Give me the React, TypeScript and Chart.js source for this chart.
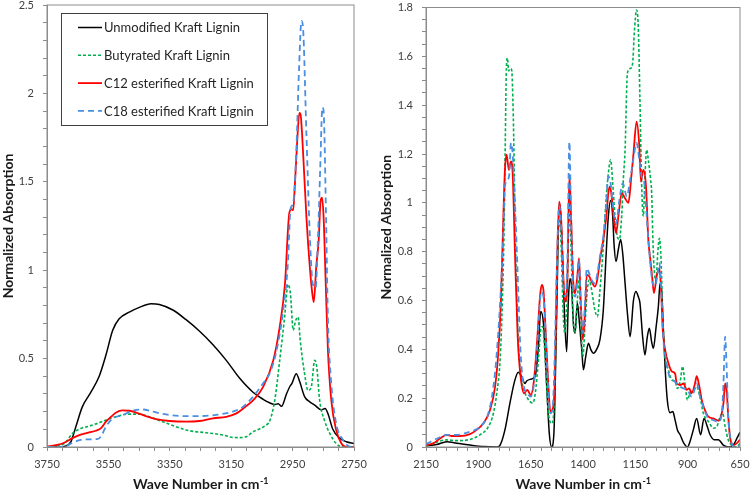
import React, { useEffect, useRef } from "react";
import { Chart, registerables } from "chart.js";

Chart.register(...registerables);

// ---------- DATA ----------
const seriesNames = [
  "Unmodified Kraft Lignin",
  "Butyrated Kraft Lignin",
  "C12 esterified Kraft Lignin",
  "C18 esterified Kraft Lignin",
];

// Left panel: [wave number cm-1, normalized absorption]
const leftUnmodified: [number, number][] = [
  [3750, 0], [3720, 0], [3690, 0.005], [3672, 0.03], [3656, 0.115], [3635, 0.227], [3607, 0.31],
  [3580, 0.4], [3558, 0.52], [3536, 0.66], [3515, 0.725], [3482, 0.763], [3449, 0.79], [3411, 0.81],
  [3384, 0.806], [3340, 0.775], [3297, 0.72], [3253, 0.655], [3210, 0.58], [3166, 0.49], [3123, 0.39],
  [3079, 0.31], [3046, 0.27], [3025, 0.25], [3008, 0.24], [2997, 0.245], [2986, 0.23], [2970, 0.3],
  [2958, 0.345], [2952, 0.36], [2938, 0.415], [2927, 0.37], [2911, 0.285], [2894, 0.255], [2878, 0.237],
  [2856, 0.21], [2844, 0.218], [2835, 0.19], [2819, 0.1], [2797, 0.05], [2775, 0.03], [2750, 0.02],
];
const leftButyrated: [number, number][] = [
  [3750, 0], [3694, 0.02], [3667, 0.077], [3640, 0.105], [3613, 0.118], [3580, 0.137], [3547, 0.16],
  [3515, 0.177], [3482, 0.186], [3449, 0.186], [3417, 0.171], [3373, 0.143], [3330, 0.115], [3286, 0.092],
  [3232, 0.081], [3177, 0.068], [3145, 0.054], [3123, 0.053], [3101, 0.058], [3079, 0.086], [3060, 0.1],
  [3040, 0.12], [3024, 0.15], [3008, 0.265], [2992, 0.49], [2976, 0.735], [2965, 0.92], [2957, 0.866],
  [2948, 0.66], [2940, 0.716], [2932, 0.735], [2925, 0.6], [2911, 0.415], [2900, 0.32], [2889, 0.34],
  [2878, 0.49], [2871, 0.45], [2862, 0.265], [2846, 0.15], [2829, 0.077], [2808, 0.02], [2786, 0.0], [2750, 0.0],
];
const leftC12: [number, number][] = [
  [3750, 0.002], [3722, 0.01], [3694, 0.024], [3667, 0.05], [3640, 0.07], [3613, 0.083], [3591, 0.092],
  [3575, 0.105], [3558, 0.143], [3542, 0.17], [3526, 0.194], [3504, 0.207], [3482, 0.205], [3460, 0.195],
  [3428, 0.175], [3395, 0.158], [3351, 0.147], [3297, 0.143], [3253, 0.147], [3210, 0.162], [3166, 0.171],
  [3133, 0.19], [3106, 0.225], [3078, 0.265], [3046, 0.34], [3013, 0.49], [2992, 0.68], [2975, 0.92],
  [2961, 1.32], [2954, 1.345], [2948, 1.34], [2943, 1.47], [2935, 1.73], [2928, 1.89], [2924, 1.88],
  [2916, 1.67], [2905, 1.3], [2894, 1.02], [2886, 0.87], [2881, 0.82], [2873, 1.02], [2865, 1.17],
  [2859, 1.39], [2854, 1.41], [2849, 1.3], [2842, 0.92], [2835, 0.55], [2824, 0.265], [2808, 0.096],
  [2791, 0.02], [2775, 0], [2750, 0],
];
const leftC18: [number, number][] = [
  [3750, 0], [3694, 0.002], [3667, 0.024], [3640, 0.04], [3613, 0.043], [3586, 0.045], [3575, 0.058],
  [3558, 0.115], [3537, 0.16], [3504, 0.18], [3471, 0.205], [3438, 0.212], [3406, 0.2], [3362, 0.184],
  [3308, 0.175], [3253, 0.175], [3199, 0.182], [3145, 0.2], [3112, 0.227], [3079, 0.284], [3046, 0.36],
  [3025, 0.415], [3003, 0.54], [2981, 0.77], [2965, 1.05], [2957, 1.345], [2948, 1.38], [2938, 1.67],
  [2929, 2.14], [2921, 2.41], [2916, 2.37], [2905, 1.77], [2894, 1.2], [2884, 0.92], [2875, 0.9],
  [2867, 1.2], [2860, 1.58], [2853, 1.92], [2849, 1.9], [2842, 1.39], [2835, 0.73], [2824, 0.36],
  [2808, 0.133], [2786, 0.04], [2759, 0], [2750, 0],
];

// Right panel: [wave number cm-1, normalized absorption]
const rightUnmodified: [number, number][] = [
  [2150, 0.004], [2099, 0.01], [2051, 0.022], [2003, 0.015], [1940, 0.008], [1876, 0.002], [1812, 0],
  [1796, 0.008], [1773, 0.07], [1749, 0.18], [1725, 0.275], [1709, 0.306], [1693, 0.288], [1677, 0.26],
  [1669, 0.27], [1653, 0.277], [1629, 0.288], [1613, 0.41], [1602, 0.555], [1589, 0.507], [1574, 0.26],
  [1561, 0.056], [1550, 0], [1539, 0.056], [1526, 0.534], [1513, 1.0], [1502, 0.876], [1491, 0.6],
  [1478, 0.39], [1470, 0.6], [1462, 0.69], [1454, 0.65], [1446, 0.507], [1438, 0.466], [1427, 0.59],
  [1417, 0.507], [1406, 0.4], [1398, 0.316], [1387, 0.37], [1374, 0.425], [1363, 0.4], [1350, 0.384],
  [1335, 0.4], [1319, 0.44], [1303, 0.56], [1290, 0.78], [1279, 0.944], [1268, 1.01], [1258, 0.944],
  [1252, 0.835], [1242, 0.76], [1231, 0.81], [1220, 0.85], [1210, 0.79], [1199, 0.67], [1188, 0.55],
  [1175, 0.452], [1159, 0.6], [1147, 0.637], [1136, 0.616], [1128, 0.59], [1115, 0.45], [1104, 0.377],
  [1093, 0.45], [1083, 0.486], [1072, 0.43], [1064, 0.404], [1051, 0.49], [1040, 0.575], [1032, 0.67],
  [1024, 0.64], [1016, 0.48], [1008, 0.33], [997, 0.19], [984, 0.14], [971, 0.145], [960, 0.11],
  [949, 0.07], [936, 0.05], [920, 0.018], [901, 0], [889, 0.022], [873, 0.07], [857, 0.117], [838, 0.05],
  [822, 0.117], [806, 0.083], [793, 0.05], [773, 0.03], [753, 0.03], [730, 0.008], [705, 0], [682, 0.008],
  [665, 0.035], [650, 0.06],
];
const rightButyrated: [number, number][] = [
  [2150, 0.004], [2099, 0.02], [2051, 0.029], [2003, 0.026], [1940, 0.031], [1892, 0.05], [1852, 0.083],
  [1828, 0.138], [1812, 0.22], [1796, 0.357], [1785, 0.6], [1778, 0.85], [1772, 1.2], [1766, 1.55],
  [1761, 1.593], [1755, 1.54], [1748, 1.55], [1741, 1.545], [1733, 1.354], [1726, 1.0], [1719, 0.7],
  [1710, 0.45], [1700, 0.31], [1688, 0.25], [1669, 0.206], [1653, 0.186], [1640, 0.18], [1628, 0.22],
  [1613, 0.357], [1602, 0.48], [1593, 0.493], [1582, 0.384], [1569, 0.18], [1558, 0.104], [1547, 0.097],
  [1535, 0.234], [1526, 0.6], [1515, 0.944], [1505, 0.835], [1494, 0.534], [1486, 0.466], [1475, 0.67],
  [1465, 1.01], [1457, 0.807], [1446, 0.507], [1438, 0.466], [1427, 0.6], [1419, 0.684], [1411, 0.534],
  [1401, 0.37], [1390, 0.507], [1382, 0.616], [1371, 0.684], [1359, 0.643], [1343, 0.56], [1331, 0.534],
  [1319, 0.643], [1303, 0.82], [1290, 1.01], [1279, 1.12], [1268, 1.176], [1258, 1.08], [1247, 0.944],
  [1236, 0.862], [1226, 0.85], [1215, 0.95], [1207, 1.1], [1199, 1.217], [1188, 1.53], [1175, 1.55],
  [1163, 1.57], [1155, 1.695], [1144, 1.79], [1136, 1.72], [1128, 1.42], [1120, 1.08], [1112, 0.944],
  [1104, 1.108], [1096, 1.217], [1088, 1.176], [1077, 1.094], [1072, 1.04], [1067, 0.876], [1061, 0.74],
  [1051, 0.684], [1043, 0.794], [1035, 0.855], [1027, 0.766], [1019, 0.534], [1008, 0.37], [992, 0.316],
  [976, 0.275], [960, 0.268], [949, 0.24], [936, 0.268], [924, 0.33], [913, 0.26], [901, 0.193],
  [889, 0.22], [873, 0.234], [857, 0.247], [841, 0.206], [825, 0.138], [801, 0.104], [777, 0.077],
  [761, 0.083], [745, 0.124], [733, 0.138], [721, 0.083], [706, 0.029], [690, 0.008], [666, 0], [650, 0.015],
];
const rightC12: [number, number][] = [
  [2150, 0.008], [2115, 0.015], [2083, 0.035], [2051, 0.05], [2027, 0.045], [1988, 0.045], [1940, 0.053],
  [1908, 0.07], [1876, 0.097], [1844, 0.152], [1820, 0.247], [1805, 0.384], [1792, 0.6], [1781, 0.93],
  [1773, 1.135], [1765, 1.197], [1754, 1.135], [1744, 1.17], [1736, 1.12], [1725, 0.794], [1712, 0.452],
  [1698, 0.288], [1682, 0.22], [1666, 0.234], [1650, 0.213], [1634, 0.275], [1618, 0.45], [1605, 0.62],
  [1597, 0.664], [1589, 0.643], [1578, 0.466], [1566, 0.26], [1556, 0.145], [1546, 0.152], [1535, 0.26],
  [1526, 0.67], [1514, 1.005], [1505, 0.944], [1494, 0.7], [1486, 0.596], [1475, 0.67], [1465, 1.115],
  [1457, 0.944], [1446, 0.67], [1438, 0.63], [1427, 0.7], [1419, 0.773], [1411, 0.6], [1401, 0.44],
  [1390, 0.56], [1382, 0.705], [1371, 0.7], [1359, 0.678], [1343, 0.657], [1331, 0.69], [1319, 0.766],
  [1303, 0.848], [1287, 0.958], [1279, 1.04], [1271, 1.067], [1263, 1.026], [1252, 0.93], [1242, 0.876],
  [1229, 0.96], [1215, 1.04], [1200, 1.02], [1183, 1.0], [1170, 1.1], [1159, 1.2], [1144, 1.333],
  [1132, 1.245], [1123, 1.087], [1112, 1.135], [1099, 1.067], [1088, 0.85], [1080, 0.78], [1070, 0.7],
  [1061, 0.63], [1048, 0.7], [1035, 0.732], [1027, 0.643], [1019, 0.48], [1008, 0.4], [992, 0.343],
  [976, 0.31], [960, 0.3], [952, 0.26], [936, 0.254], [920, 0.26], [905, 0.234], [893, 0.24], [881, 0.22],
  [865, 0.26], [857, 0.29], [844, 0.247], [833, 0.193], [817, 0.15], [801, 0.124], [777, 0.117],
  [753, 0.108], [737, 0.138], [729, 0.18], [721, 0.26], [714, 0.234], [706, 0.124], [698, 0.042],
  [682, 0.008], [666, 0.015], [650, 0.03],
];
const rightC18: [number, number][] = [
  [2150, 0.012], [2083, 0.04], [2051, 0.05], [2003, 0.05], [1940, 0.063], [1892, 0.083], [1852, 0.138],
  [1828, 0.247], [1812, 0.384], [1796, 0.59], [1781, 0.86], [1773, 1.067], [1762, 1.094], [1753, 1.11],
  [1744, 1.245], [1736, 1.2], [1725, 1.0], [1714, 0.753], [1698, 0.384], [1682, 0.247], [1666, 0.22],
  [1650, 0.206], [1634, 0.26], [1618, 0.42], [1600, 0.635], [1589, 0.616], [1578, 0.452], [1566, 0.234],
  [1556, 0.138], [1546, 0.152], [1538, 0.288], [1526, 0.7], [1514, 0.99], [1505, 0.917], [1494, 0.67],
  [1486, 0.616], [1475, 0.74], [1465, 1.25], [1457, 0.944], [1446, 0.643], [1438, 0.616], [1427, 0.684],
  [1419, 0.766], [1411, 0.6], [1401, 0.466], [1390, 0.6], [1382, 0.732], [1371, 0.712], [1359, 0.684],
  [1343, 0.67], [1331, 0.712], [1319, 0.78], [1303, 0.862], [1290, 0.985], [1279, 1.108], [1268, 1.08],
  [1255, 0.97], [1242, 0.917], [1226, 1.012], [1210, 1.08], [1191, 1.026], [1175, 1.094], [1160, 1.176],
  [1144, 1.245], [1131, 1.176], [1120, 1.108], [1109, 1.094], [1099, 0.985], [1088, 0.85], [1080, 0.766],
  [1067, 0.67], [1056, 0.657], [1043, 0.712], [1035, 0.753], [1024, 0.6], [1016, 0.44], [1003, 0.357],
  [987, 0.288], [971, 0.275], [952, 0.26], [936, 0.247], [920, 0.24], [901, 0.234], [881, 0.206],
  [865, 0.24], [857, 0.26], [841, 0.206], [825, 0.165], [806, 0.124], [777, 0.11], [753, 0.103],
  [737, 0.138], [729, 0.26], [721, 0.452], [714, 0.33], [706, 0.124], [694, 0.029], [674, 0], [650, 0.005],
];

const leftXLabels = [3750, 3550, 3350, 3150, 2950, 2750];
const leftYLabels = [0, 0.5, 1, 1.5, 2, 2.5];
const rightXLabels = [2150, 1900, 1650, 1400, 1150, 900, 650];
const rightYLabels = [0, 0.2, 0.4, 0.6, 0.8, 1, 1.2, 1.4, 1.6, 1.8];

// ---------- STYLE ----------
const FONT = "Lato, 'Open Sans', 'DejaVu Sans', sans-serif";
const AXIS_GRAY = "#8c8c8c";
const seriesStyles = [
  { color: "#000000", width: 1.5, dash: [] as number[] },
  { color: "#00b050", width: 1.6, dash: [3, 2] },
  { color: "#ff0000", width: 1.8, dash: [] as number[] },
  { color: "#4a8fe0", width: 1.8, dash: [6, 4] },
];

function labelFor(labels: number[]) {
  return (value: number | string) => {
    const v = Number(value);
    return labels.some((l) => Math.abs(l - v) < 1e-6) ? String(+v.toFixed(2)) : "";
  };
}

const framePlugin = {
  id: "frame",
  afterDatasetsDraw(chart: any) {
    const { ctx, chartArea: a } = chart;
    ctx.save();
    ctx.strokeStyle = AXIS_GRAY;
    ctx.lineWidth = 1;
    ctx.strokeRect(a.left, a.top, a.right - a.left, a.bottom - a.top);
    ctx.restore();
  },
};

const xTitlePlugin = {
  id: "xTitle",
  afterDraw(chart: any) {
    const { ctx, chartArea: a } = chart;
    const cx = (a.left + a.right) / 2;
    const y = 489;
    ctx.save();
    ctx.fillStyle = "#1a1a1a";
    ctx.textBaseline = "alphabetic";
    ctx.textAlign = "left";
    const main = "Wave Number in cm";
    const sup = "-1";
    ctx.font = `bold 14px ${FONT}`;
    const wMain = ctx.measureText(main).width;
    ctx.font = `bold 9px ${FONT}`;
    const wSup = ctx.measureText(sup).width;
    const start = cx - (wMain + wSup) / 2;
    ctx.font = `bold 14px ${FONT}`;
    ctx.fillText(main, start, y);
    ctx.font = `bold 9px ${FONT}`;
    ctx.fillText(sup, start + wMain + 0.5, y - 5.5);
    ctx.restore();
  },
};

const boxLegendPlugin = {
  id: "boxLegend",
  afterDraw(chart: any) {
    const ctx = chart.ctx;
    const x0 = 61, y0 = 13, w = 206, h = 112;
    ctx.save();
    ctx.fillStyle = "#ffffff";
    ctx.fillRect(x0, y0, w, h);
    ctx.strokeStyle = "#404040";
    ctx.lineWidth = 1;
    ctx.strokeRect(x0 + 0.5, y0 + 0.5, w, h);
    chart.data.datasets.forEach((ds: any, i: number) => {
      const y = y0 + 14.5 + i * 27.8;
      ctx.beginPath();
      ctx.setLineDash(ds.borderDash || []);
      ctx.strokeStyle = ds.borderColor;
      ctx.lineWidth = ds.borderWidth;
      ctx.moveTo(78, y);
      ctx.lineTo(102, y);
      ctx.stroke();
      ctx.setLineDash([]);
      ctx.fillStyle = "#262626";
      ctx.font = `13px ${FONT}`;
      ctx.textBaseline = "middle";
      ctx.textAlign = "left";
      ctx.fillText(ds.label, 104, y + 0.5);
    });
    ctx.restore();
  },
};

type PanelCfg = {
  series: [number, number][][];
  xMin: number;
  xMax: number;
  xLabels: number[];
  yMax: number;
  yStep: number;
  yLabels: number[];
  axisWidth: number;
  padTop: number;
  padRight: number;
  legend: boolean;
};

function buildConfig(cfg: PanelCfg): any {
  const tickFont = { family: FONT, size: 11 };
  return {
    type: "line",
    data: {
      datasets: cfg.series.map((pts, i) => ({
        label: seriesNames[i],
        data: pts.map(([x, y]) => ({ x, y })),
        borderColor: seriesStyles[i].color,
        borderWidth: seriesStyles[i].width,
        borderDash: seriesStyles[i].dash,
        pointRadius: 0,
        fill: false,
        cubicInterpolationMode: "monotone",
        order: 3 - i,
      })),
    },
    options: {
      responsive: false,
      animation: false,
      events: [],
      layout: { padding: { left: 0, right: cfg.padRight, top: cfg.padTop, bottom: 0 } },
      plugins: { legend: { display: false }, tooltip: { enabled: false } },
      scales: {
        x: {
          type: "linear",
          reverse: true,
          min: cfg.xMin,
          max: cfg.xMax,
          afterFit(s: any) {
            s.height = 44;
            s.paddingLeft = 0;
            s.paddingRight = 0;
          },
          ticks: {
            stepSize: 50,
            autoSkip: false,
            maxRotation: 0,
            minRotation: 0,
            padding: 7,
            color: "#404040",
            font: tickFont,
            callback: labelFor(cfg.xLabels),
          },
          grid: { display: true, drawOnChartArea: false, drawTicks: true, tickLength: 4, color: AXIS_GRAY },
          border: { display: true, color: AXIS_GRAY },
        },
        y: {
          type: "linear",
          min: 0,
          max: cfg.yMax,
          afterFit(s: any) {
            s.width = cfg.axisWidth;
            s.paddingTop = 0;
            s.paddingBottom = 0;
          },
          ticks: {
            stepSize: cfg.yStep,
            autoSkip: false,
            padding: 9,
            color: "#404040",
            font: tickFont,
            callback: labelFor(cfg.yLabels),
          },
          grid: { display: true, drawOnChartArea: false, drawTicks: true, tickLength: 4, color: AXIS_GRAY },
          border: { display: true, color: AXIS_GRAY },
          title: {
            display: true,
            text: "Normalized Absorption",
            color: "#1a1a1a",
            font: { family: FONT, size: 14, weight: "bold" },
            padding: { top: 0, bottom: 0 },
          },
        },
      },
    },
    plugins: cfg.legend ? [framePlugin, xTitlePlugin, boxLegendPlugin] : [framePlugin, xTitlePlugin],
  };
}

function Panel({ cfg, left, width }: { cfg: PanelCfg; left: number; width: number }) {
  const ref = useRef<HTMLCanvasElement>(null);
  useEffect(() => {
    const chart = new Chart(ref.current as HTMLCanvasElement, buildConfig(cfg));
    return () => chart.destroy();
  }, []);
  return (
    <canvas
      ref={ref}
      width={width}
      height={491}
      style={{ position: "absolute", left, top: 0, width, height: 491, display: "block" }}
    />
  );
}

const leftCfg: PanelCfg = {
  series: [leftUnmodified, leftButyrated, leftC12, leftC18],
  xMin: 2750,
  xMax: 3750,
  xLabels: leftXLabels,
  yMax: 2.5,
  yStep: 0.1,
  yLabels: leftYLabels,
  axisWidth: 47,
  padTop: 5,
  padRight: 24,
  legend: true,
};

const rightCfg: PanelCfg = {
  series: [rightUnmodified, rightButyrated, rightC12, rightC18],
  xMin: 650,
  xMax: 2150,
  xLabels: rightXLabels,
  yMax: 1.8,
  yStep: 0.05,
  yLabels: rightYLabels,
  axisWidth: 48,
  padTop: 7.5,
  padRight: 10,
  legend: false,
};

export default function App() {
  return (
    <div style={{ position: "absolute", left: 0, top: 0, width: 750, height: 491, background: "#ffffff", overflow: "hidden" }}>
      <Panel cfg={leftCfg} left={0} width={378} />
      <Panel cfg={rightCfg} left={378} width={372} />
    </div>
  );
}
